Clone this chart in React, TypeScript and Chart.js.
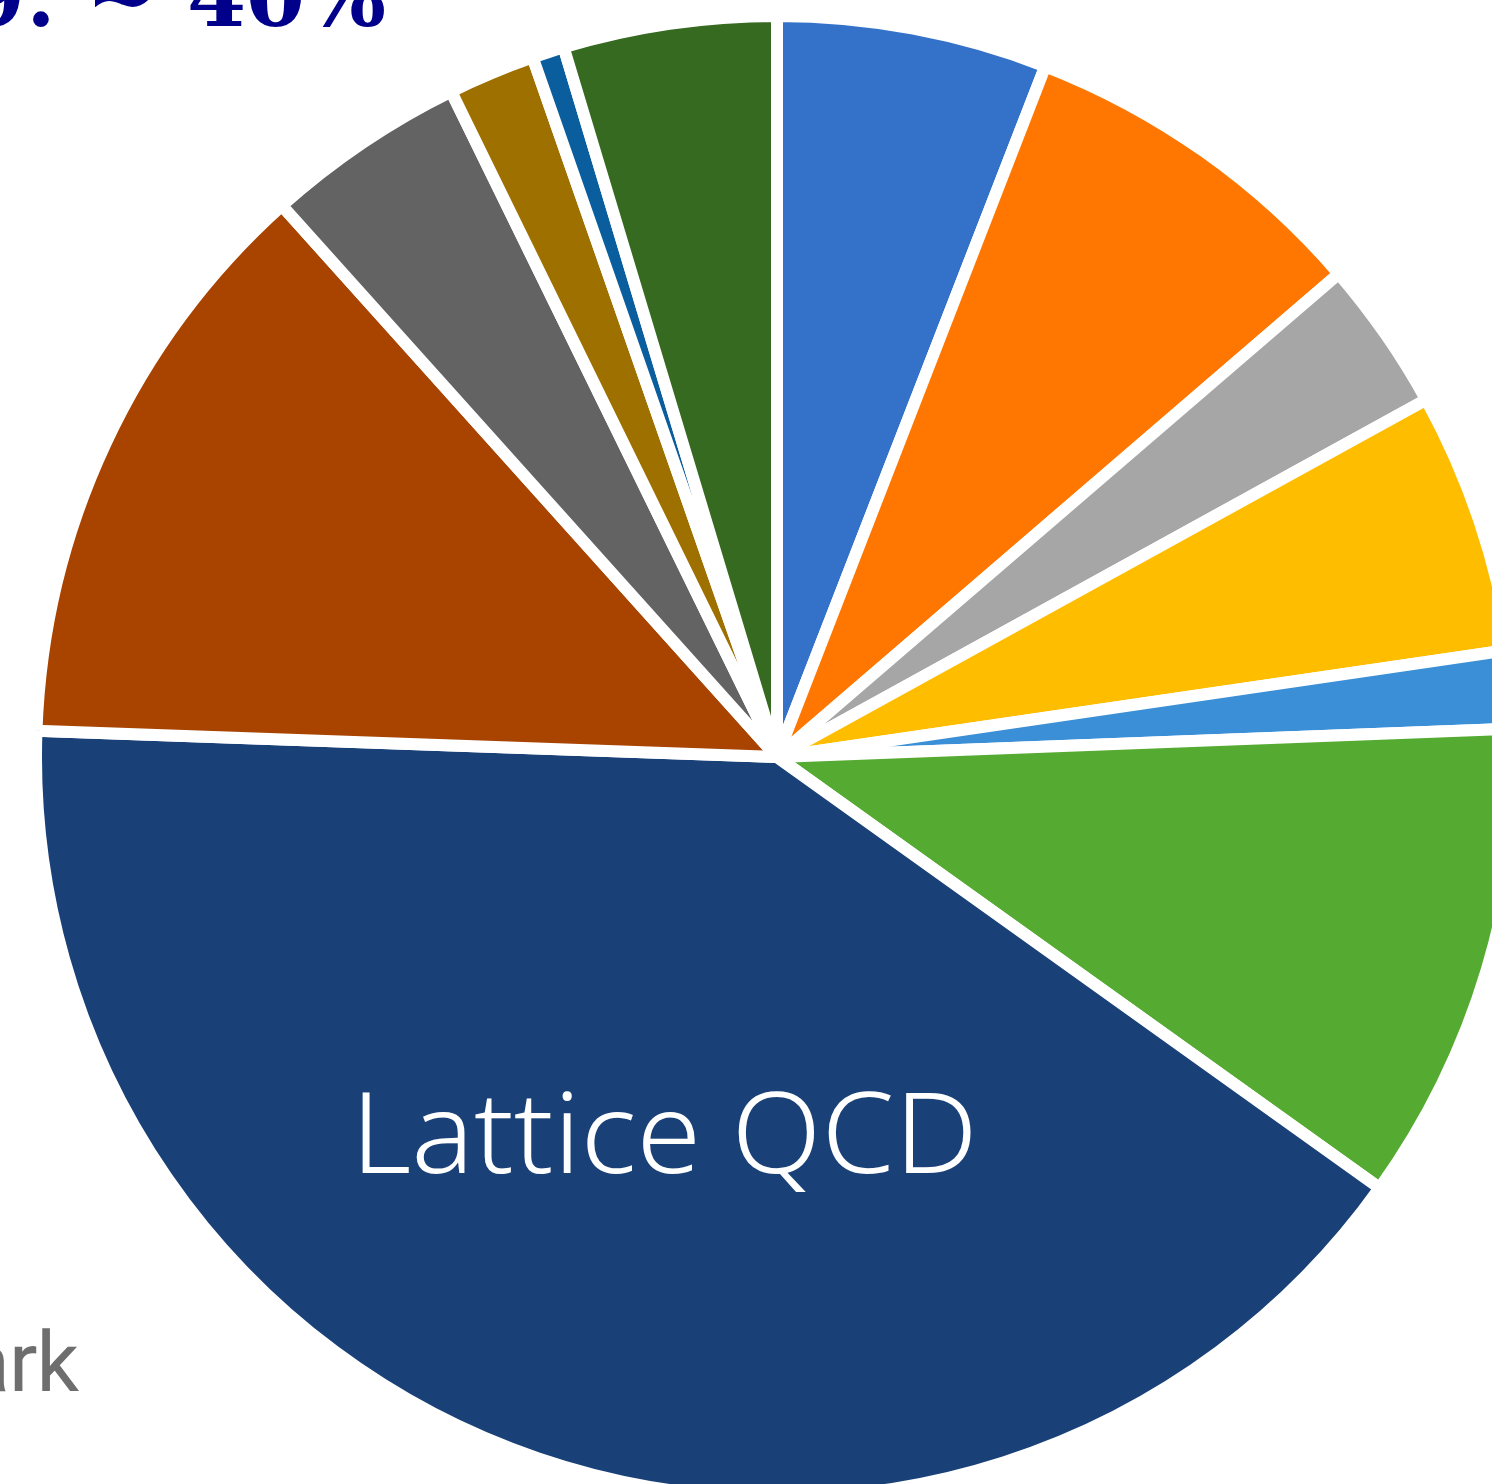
import React, { useEffect, useRef } from "react";
import { Chart, registerables } from "chart.js";

Chart.register(...registerables);

const categories = [
  "Slice 1",
  "Slice 2",
  "Slice 3",
  "Slice 4",
  "Slice 5",
  "Slice 6",
  "Lattice QCD",
  "Slice 8",
  "Slice 9",
  "Slice 10",
  "Slice 11",
  "Slice 12",
];
const shares = [5.9, 7.8, 3.3, 5.7, 1.7, 10.5, 40.7, 12.8, 4.4, 1.9, 0.7, 4.65];
const sliceColors = [
  "#3472C9",
  "#FF7600",
  "#A6A6A6",
  "#FFBD00",
  "#3A8FD6",
  "#55AB31",
  "#1A4177",
  "#A84300",
  "#636363",
  "#9E7000",
  "#0A5E9E",
  "#366A20",
];
const sliceLabel = "Lattice QCD";
const titleFragment = "2019: ~ 40%";
const sideFragment = "Quark";

const labelPlugin = {
  id: "sliceLabel",
  afterDraw(chart: any) {
    const meta = chart.getDatasetMeta(0);
    const arc = meta.data[0];
    if (!arc) return;
    const { x, y } = arc.getProps(["x", "y"], true);
    const ctx = chart.ctx;
    ctx.save();
    ctx.fillStyle = "#ffffff";
    ctx.font = "300 112px 'Noto Sans', sans-serif";
    ctx.textBaseline = "alphabetic";
    ctx.textAlign = "left";
    ctx.translate(x - 426, y + 416);
    ctx.scale(1.045, 1);
    ctx.fillText(sliceLabel, 0, 0);
    ctx.restore();
  },
};

export default function App() {
  const ref = useRef<HTMLCanvasElement | null>(null);
  useEffect(() => {
    if (!ref.current) return;
    const chart = new Chart(ref.current, {
      type: "pie",
      data: {
        labels: categories,
        datasets: [
          {
            data: shares,
            backgroundColor: sliceColors,
            borderColor: "#ffffff",
            borderWidth: 12,
          },
        ],
      },
      options: {
        responsive: false,
        animation: false,
        layout: { padding: 0 },
        plugins: {
          legend: { display: false },
          tooltip: { enabled: false },
        },
      },
      plugins: [labelPlugin],
    });
    return () => chart.destroy();
  }, []);
  return (
    <div>
      <div
        style={{
          position: "fixed",
          left: 30,
          top: 10,
          width: 1494,
          height: 1494,
        }}
      >
        <canvas ref={ref} width={1494} height={1494} />
      </div>
      <div
        style={{
          position: "fixed",
          right: 1492 - 386,
          top: -46,
          font: "bold 85px 'DejaVu Serif', serif",
          lineHeight: 1,
          color: "#00008B",
          whiteSpace: "nowrap",
        }}
      >
        {titleFragment}
      </div>
      <div
        style={{
          position: "fixed",
          right: 1492 - 78,
          top: 1321,
          font: "84px 'Liberation Sans Narrow', 'Roboto', sans-serif",
          letterSpacing: "-1px",
          lineHeight: 1,
          color: "#6E6E6E",
          whiteSpace: "nowrap",
        }}
      >
        {sideFragment}
      </div>
    </div>
  );
}
